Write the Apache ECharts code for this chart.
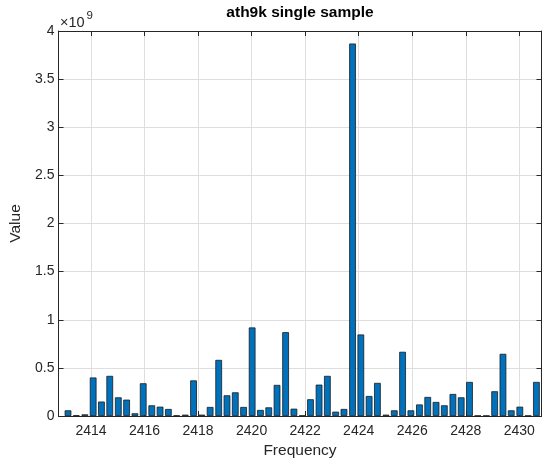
<!DOCTYPE html>
<html>
<head>
<meta charset="utf-8">
<script src="https://cdn.jsdelivr.net/npm/echarts@6/dist/echarts.min.js"></script>
<style>
html,body{margin:0;padding:0;background:#fff;}
#chart{width:543px;height:466px;}
</style>
</head>
<body>
<div id="chart"></div>
<script>
// Frequencies (MHz) of each bin
const frequencies = [
  2413.14, 2413.45, 2413.77, 2414.08, 2414.39, 2414.70, 2415.02, 2415.33,
  2415.64, 2415.95, 2416.27, 2416.58, 2416.89, 2417.20, 2417.52, 2417.83,
  2418.14, 2418.45, 2418.77, 2419.08, 2419.39, 2419.70, 2420.02, 2420.33,
  2420.64, 2420.95, 2421.27, 2421.58, 2421.89, 2422.20, 2422.52, 2422.83,
  2423.14, 2423.45, 2423.77, 2424.08, 2424.39, 2424.70, 2425.02, 2425.33,
  2425.64, 2425.95, 2426.27, 2426.58, 2426.89, 2427.20, 2427.52, 2427.83,
  2428.14, 2428.45, 2428.77, 2429.08, 2429.39, 2429.70, 2430.02, 2430.33,
  2430.64
];
// Values in units of 1e9
const valuesE9 = [
  0.059, 0.007, 0.017, 0.400, 0.150, 0.417, 0.194, 0.170,
  0.028, 0.340, 0.111, 0.097, 0.073, 0.005, 0.014, 0.370,
  0.014, 0.094, 0.583, 0.215, 0.246, 0.094, 0.920, 0.063,
  0.090, 0.323, 0.871, 0.076, 0.005, 0.174, 0.326, 0.417,
  0.045, 0.073, 3.870, 0.847, 0.208, 0.344, 0.014, 0.059,
  0.667, 0.059, 0.120, 0.198, 0.146, 0.111, 0.229, 0.194,
  0.354, 0.003, 0.003, 0.257, 0.646, 0.059, 0.097, 0.003,
  0.354
];
const xTicks = [2414, 2416, 2418, 2420, 2422, 2424, 2426, 2428, 2430];
const yTickLabels = ['0', '0.5', '1', '1.5', '2', '2.5', '3', '3.5', '4'];

const SCALE = 1e9;
const XMIN = 2412.785, XMAX = 2430.83;
const seriesData = frequencies.map((f, i) => [f, valuesE9[i] * SCALE]);

const font = '"Liberation Sans", Arial, Helvetica, sans-serif';
const txt = '#262626';
const axisCol = '#262626';

const chart = echarts.init(document.getElementById('chart'), null, {renderer: 'canvas'});
chart.setOption({
  animation: false,
  backgroundColor: '#fff',
  grid: {left: 58.5, right: 1.5, top: 31, bottom: 50, outerBoundsMode: 'none', containLabel: false},
  graphic: [
    {type: 'text', x: 300, y: 12.5, style: {text: 'ath9k single sample', font: 'bold 15.5px ' + font, fill: '#000', textAlign: 'center', textVerticalAlign: 'middle'}},
    {type: 'text', x: 60, y: 23, style: {text: '×10', font: '14.5px ' + font, fill: txt, textAlign: 'left', textVerticalAlign: 'middle'}},
    {type: 'text', x: 86.5, y: 16, style: {text: '9', font: '11.5px ' + font, fill: txt, textAlign: 'left', textVerticalAlign: 'middle'}}
  ],
  xAxis: [
    {
      type: 'value', min: XMIN, max: XMAX, position: 'bottom',
      name: 'Frequency', nameLocation: 'middle', nameGap: 26,
      nameTextStyle: {fontFamily: font, fontSize: 15.5, color: txt},
      axisLine: {show: true, onZero: false, lineStyle: {color: axisCol, width: 1}},
      axisTick: {show: true, inside: true, length: 5, customValues: xTicks, lineStyle: {color: axisCol}},
      axisLabel: {customValues: xTicks, margin: 8, fontFamily: font, fontSize: 14, color: txt, formatter: v => String(Math.round(v))},
      splitLine: {show: true, lineStyle: {color: '#dedede', width: 1}}
    },
    {
      type: 'value', min: XMIN, max: XMAX, position: 'top',
      axisLine: {show: true, onZero: false, lineStyle: {color: axisCol, width: 1}},
      axisTick: {show: true, inside: true, length: 5, customValues: xTicks, lineStyle: {color: axisCol}},
      axisLabel: {show: false},
      splitLine: {show: false}
    }
  ],
  yAxis: [
    {
      type: 'value', min: 0, max: 4 * SCALE, interval: 0.5 * SCALE, position: 'left',
      name: 'Value', nameLocation: 'middle', nameGap: 32, nameRotate: 90,
      nameTextStyle: {fontFamily: font, fontSize: 15.5, color: txt},
      axisLine: {show: true, onZero: false, lineStyle: {color: axisCol, width: 1}},
      axisTick: {show: true, inside: true, length: 5, lineStyle: {color: axisCol}},
      axisLabel: {margin: 4, fontFamily: font, fontSize: 14, color: txt,
        formatter: v => yTickLabels[Math.round(v / (0.5 * SCALE))]},
      splitLine: {show: true, lineStyle: {color: '#dedede', width: 1}}
    },
    {
      type: 'value', min: 0, max: 4 * SCALE, interval: 0.5 * SCALE, position: 'right',
      axisLine: {show: true, onZero: false, lineStyle: {color: axisCol, width: 1}},
      axisTick: {show: true, inside: true, length: 5, lineStyle: {color: axisCol}},
      axisLabel: {show: false},
      splitLine: {show: false}
    }
  ],
  series: [{
    type: 'bar',
    xAxisIndex: 0, yAxisIndex: 0,
    data: seriesData,
    barWidth: 6.7,
    clip: true,
    itemStyle: {color: '#0072BD', borderColor: '#1a1a1a', borderWidth: 0.8}
  }]
});
</script>
</body>
</html>
